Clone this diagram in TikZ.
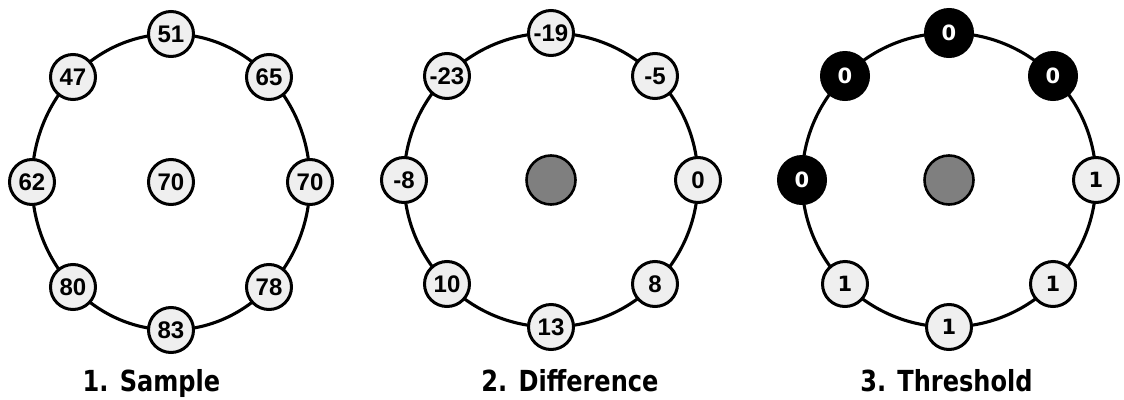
\documentclass[tikz,border=0pt]{standalone}
\usepackage{fontspec}
\newfontfamily\numfont{Liberation Sans}
\newfontfamily\capfont{DejaVu Sans}
\definecolor{lightfill}{HTML}{EFEFEF}
\definecolor{midgray}{HTML}{7F7F7F}
\begin{document}
\begin{tikzpicture}[x=1pt,y=-1pt,
  pix/.style={circle,draw=black,line width=3pt,fill=lightfill,minimum size=45pt,inner sep=0pt,
    font=\numfont\bfseries\fontsize{24}{24}\selectfont},
  thr/.style={circle,draw=black,line width=3pt,fill=lightfill,minimum size=45pt,inner sep=0pt,
    font=\capfont\bfseries\fontsize{21}{21}\selectfont},
  blk/.style={circle,draw=black,line width=1pt,fill=black,text=white,minimum size=49pt,inner sep=0pt,
    font=\capfont\bfseries\fontsize{21}{21}\selectfont},
  ctr/.style={circle,draw=black,line width=2.6pt,fill=midgray,minimum size=49pt,inner sep=0pt},
  ring/.style={line width=3.1pt},
  caption/.style={anchor=base,inner sep=0pt,font=\capfont\bfseries\fontsize{29}{29}\selectfont}]
\useasboundingbox (0,0) rectangle (1124,399);

% ---------- panel 1 ----------
\draw[ring] (171,182) ellipse [x radius=139, y radius=148];
\node[pix] (a1) at (171,34)  {51};
\node[pix] (a2) at (269,77)  {65};
\node[pix] (a3) at (310,182) {70};
\node[pix] (a4) at (269,287) {78};
\node[pix] (a5) at (171,330) {83};
\node[pix] (a6) at (73,287)  {80};
\node[pix] (a7) at (32,182)  {62};
\node[pix] (a8) at (73,77)   {47};
\node[pix] (ac) at (171,182) {70};
\node[caption] (la) at (151.5,391) {\scalebox{0.83}[1]{1. Sample}};

% ---------- panel 2 ----------
\draw[ring] (551,180) circle [radius=147];
\node[pix] (b1) at (551,33)  {-19};
\node[pix] (b2) at (655,76)  {-5};
\node[pix] (b3) at (698,180) {0};
\node[pix] (b4) at (655,284) {8};
\node[pix] (b5) at (551,327) {13};
\node[pix] (b6) at (447,284) {10};
\node[pix] (b7) at (404,180) {-8};
\node[pix] (b8) at (447,76)  {-23};
\node[ctr] (bc) at (551,180) {};
\node[caption] (lb) at (570,391) {\scalebox{0.83}[1]{2. Difference}};

% ---------- panel 3 ----------
\draw[ring] (949,180) circle [radius=147];
\node[blk] (c1) at (949,33)  {0};
\node[blk] (c2) at (1053,76) {0};
\node[thr] (c3) at (1096,180) {1};
\node[thr] (c4) at (1053,284) {1};
\node[thr] (c5) at (949,327) {1};
\node[thr] (c6) at (845,284) {1};
\node[blk] (c7) at (802,180) {0};
\node[blk] (c8) at (845,76)  {0};
\node[ctr] (cc) at (949,180) {};
\node[caption] (lc) at (946.5,391) {\scalebox{0.83}[1]{3. Threshold}};
\end{tikzpicture}
\end{document}
